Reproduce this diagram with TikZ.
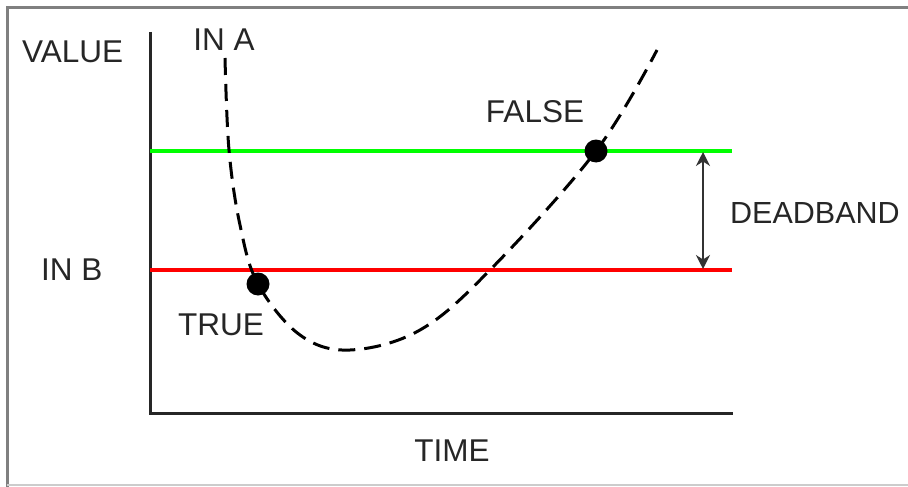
\documentclass[tikz,border=0pt]{standalone}
\usepackage{fontspec}
\setmainfont{Liberation Sans}
\usetikzlibrary{arrows.meta}
\begin{document}
\begin{tikzpicture}[x=1pt,y=-1pt,
  lbl/.style={font=\fontsize{31.5}{35}\selectfont, text=black!85, inner sep=0pt},
  axisline/.style={line width=3pt, draw=black!85},
  level/.style={line width=4pt},
  dot/.style={circle, fill=black, minimum size=23pt, inner sep=0pt},
  curve/.style={line width=3pt, dash pattern=on 17pt off 9pt}]
\useasboundingbox (0,0) rectangle (908,487);
\fill[white] (0,0) rectangle (908,487);
% frame
\draw[line width=3pt, black!50] (7,490) -- (7,8) -- (912,8);
\draw[line width=2pt, black!20] (7,485) -- (912,485);
% axes
\coordinate (ytop) at (150,32);
\coordinate (orig) at (150,413);
\coordinate (xend) at (733,413);
\draw[axisline] (ytop) -- (orig) -- (xend);
% levels
\coordinate (gL) at (150,151); \coordinate (gR) at (732,151);
\coordinate (rL) at (150,270); \coordinate (rR) at (732,270);
\draw[level, draw={rgb,255:red,0;green,255;blue,0}] (gL) -- (gR);
\draw[level, draw={rgb,255:red,255;green,0;blue,0}] (rL) -- (rR);
% deadband arrow
\coordinate (aT) at (703,152);
\coordinate (aB) at (703,269);
\draw[line width=1.5pt, black!80, {Stealth[length=14pt,width=14pt]}-{Stealth[length=14pt,width=14pt]}] (aT) -- (aB);
% curve
\draw[curve] plot[smooth, tension=0.6] coordinates {(225,58) (229,150) (240,225) (258,284) (300,335) (350,350) (420,330) (490,270) (596,151) (657,50)};
\node[dot] (true) at (258,284) {};
\node[dot] (false) at (596,151) {};
% labels
\node[lbl, anchor=west] (value) at (22,52) {VALUE};
\node[lbl, anchor=center] (ina) at (224,40) {IN A};
\node[lbl, anchor=west] (inb) at (41,270) {IN B};
\node[lbl] (truel) at (221,325) {TRUE};
\node[lbl] (falsel) at (535,112) {FALSE};
\node[lbl, anchor=west, font=\fontsize{30.5}{34}\selectfont] (db) at (730,213) {DEADBAND};
\node[lbl] (time) at (452,451) {TIME};
\end{tikzpicture}
\end{document}
